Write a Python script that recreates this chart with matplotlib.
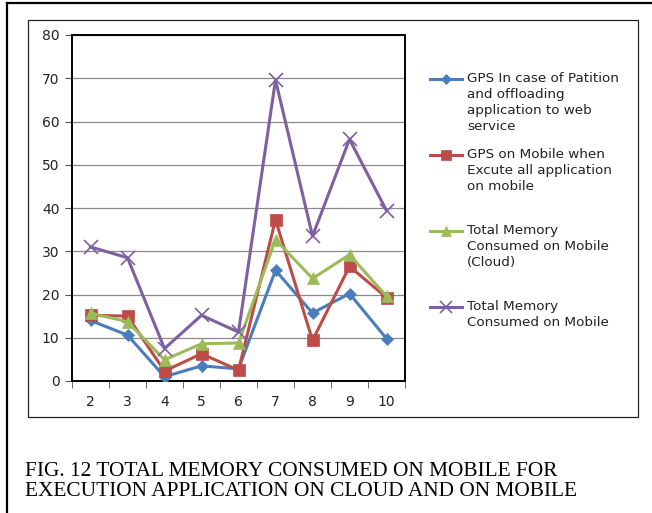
import matplotlib
matplotlib.use("Agg")
import matplotlib.pyplot as plt
from matplotlib.lines import Line2D
from matplotlib.patches import Rectangle

categories = ["2", "3", "4", "5", "6", "7", "8", "9", "10"]
gps_partition = [14, 10.6, 1, 3.5, 2.8, 25.6, 15.7, 20.2, 9.8]
gps_mobile = [15.2, 15, 2.3, 6.3, 2.5, 37.3, 9.4, 26.5, 19.3]
mem_cloud = [15.7, 13.7, 4.9, 8.6, 8.8, 32.7, 23.7, 29.2, 19.6]
mem_mobile = [31, 28.5, 7.5, 15.2, 11.3, 69.6, 33.5, 55.9, 39.4]

labels = [
    "GPS In case of Patition\nand offloading\napplication to web\nservice",
    "GPS on Mobile when\nExcute all application\non mobile",
    "Total Memory\nConsumed on Mobile\n(Cloud)",
    "Total Memory\nConsumed on Mobile",
]
colors = ["#4A7EBB", "#BE4B48", "#9BBB59", "#7D60A0"]
markers = ["D", "s", "^", "x"]
msizes = [6, 8, 8, 10]

caption = ("FIG. 12 TOTAL MEMORY CONSUMED ON MOBILE FOR\n"
           "EXECUTION APPLICATION ON CLOUD AND ON MOBILE")

W, H = 652, 513
fig = plt.figure(figsize=(W / 100, H / 100), dpi=100)

# outer page frame (top and left edges)
fig.add_artist(Line2D([7 / W, 1], [1 - 3 / H, 1 - 3 / H], color="black", lw=1.6))
fig.add_artist(Line2D([7 / W, 7 / W], [0, 1 - 3 / H], color="black", lw=1.6))
# chart area box
fig.add_artist(Rectangle((28 / W, 1 - 417 / H), 610 / W, 397 / H, fill=False,
                         ec="#222222", lw=0.9))

ax = fig.add_axes([72 / W, 1 - 381 / H, 333 / W, 346 / H])
x = list(range(len(categories)))
series = [gps_partition, gps_mobile, mem_cloud, mem_mobile]
for vals, c, m, ms in zip(series, colors, markers, msizes):
    ax.plot(x, vals, color=c, lw=2.2, marker=m, markersize=ms,
            markeredgewidth=1.2 if m == "x" else 0.5, zorder=3)

ax.set_xlim(-0.5, len(categories) - 0.5)
ax.set_ylim(0, 80)
ax.set_yticks(range(0, 81, 10))
ax.grid(axis="y", color="#8a8a8a", lw=0.9)
ax.set_axisbelow(True)
ax.set_xticks(x)
ax.set_xticklabels(categories, fontsize=10, color="#222222")
ax.tick_params(axis="x", length=0, pad=10)
ax.set_xticks([i - 0.5 for i in range(len(categories) + 1)], minor=True)
ax.tick_params(axis="x", which="minor", length=5, direction="out", color="#555555")
ax.tick_params(axis="y", length=5, direction="out", color="#555555", labelsize=10,
               labelcolor="#222222", pad=4)
for s in ax.spines.values():
    s.set_linewidth(1.4)
    s.set_color("black")

# legend drawn entry by entry so rows are evenly spaced
leg_top = 79
leg_step = 76
for i, (lab, c, m, ms) in enumerate(zip(labels, colors, markers, msizes)):
    yy = 1 - (leg_top + i * leg_step) / H
    fig.add_artist(Line2D([430 / W, 462 / W], [yy, yy], color=c, lw=2.2))
    fig.add_artist(Line2D([446 / W], [yy], color=c, marker=m, markersize=ms - 1,
                          markeredgewidth=1.2 if m == "x" else 0.5))
    fig.text(467 / W, yy + 7 / H, lab, fontsize=9.7, va="top", ha="left",
             linespacing=1.3, color="#222222")

fig.text(25 / W, 1 - 462 / H, caption, fontsize=15.4, family="Liberation Serif",
         va="top", ha="left", linespacing=1.08)

fig.savefig("out.png", dpi=100)
